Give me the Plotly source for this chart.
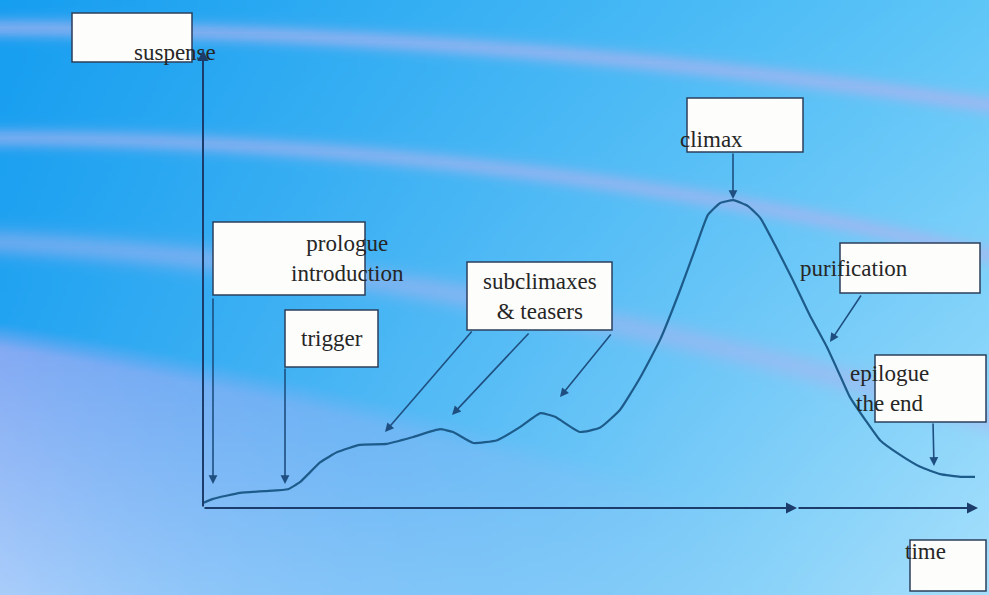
import base64
import struct
import zlib

import numpy as np
import plotly.graph_objects as go

# --- data: dramatic curve (time 0..100, suspense 0..100) ---
time = [0.0, 1.3, 4.8, 8.0, 11.0, 12.6, 15.2, 17.4, 20.3, 23.8, 27.2, 30.7, 32.4,
        35.0, 38.1, 41.1, 43.7, 45.6, 48.8, 51.4, 54.0, 56.6, 59.2, 61.8, 63.7,
        65.4, 67.0, 68.7, 70.6, 72.2, 74.1, 76.4, 78.6, 80.8, 82.5, 83.8, 85.8,
        87.7, 90.3, 92.9, 95.5, 98.1, 100.0]
suspense = [1.1, 2.0, 3.3, 3.7, 4.1, 5.7, 10.0, 12.2, 13.8, 14.0, 15.5, 17.2, 16.6,
            14.2, 14.8, 17.7, 20.7, 19.9, 16.6, 17.5, 21.4, 28.4, 36.7, 47.6, 56.3,
            64.0, 66.6, 67.2, 65.9, 63.3, 57.4, 49.8, 42.1, 35.2, 29.0, 24.2, 19.2,
            14.8, 11.6, 9.0, 7.4, 6.8, 6.8]

labels = ["suspense", "prologue<br>introduction", "trigger", "subclimaxes<br>&amp; teasers",
          "climax", "purification", "epilogue<br>the end", "time"]

W, H = 989, 595
X0, Y0 = 203, 508          # pixel position of the origin
SX, SY = 7.72, 4.58        # pixels per data unit


def px(x):
    return (x - X0) / SX


def py(y):
    return (Y0 - y) / SY


def background_uri(w=198, h=119):
    xs = (np.arange(w) + 0.5) * W / w
    ys = (np.arange(h) + 0.5) * H / h
    X, Y = np.meshgrid(xs, ys)
    u, v = X / W, Y / H
    tl = np.array([22, 158, 240.0])
    tr = np.array([95, 198, 248.0])
    bl = np.array([45, 168, 242.0])
    br = np.array([168, 224, 252.0])
    img = ((1 - u)[..., None] * (1 - v)[..., None] * tl + u[..., None] * (1 - v)[..., None] * tr
           + (1 - u)[..., None] * v[..., None] * bl + u[..., None] * v[..., None] * br)
    lav = np.array([172, 180, 240.0])
    # lower-left periwinkle region
    yb = 335 + 0.16 * X + 0.00012 * X ** 2
    wreg = np.clip((Y - yb) / 25 + 0.5, 0, 1) * np.clip(1 - X / 750, 0, 1)
    peri = np.array([140, 178, 245.0]) + (Y[..., None] - 400) / 195 * np.array([30, 28, 6.0])
    img = img * (1 - wreg[..., None]) + peri * wreg[..., None]
    # light bands
    for a0, a1, a2, wid, strength in [(28, 0.0059, 7.28e-5, 10, 0.65),
                                      (138, 0.0036, 1.16e-4, 10, 0.6),
                                      (242, 0.0583, 1.23e-4, 14, 0.5)]:
        yc = a0 + a1 * X + a2 * X ** 2
        wb = strength * np.exp(-((Y - yc) / wid) ** 2)
        img = img * (1 - wb[..., None]) + lav * wb[..., None]
    arr = np.clip(img, 0, 255).astype(np.uint8)
    raw = b"".join(b"\x00" + row.tobytes() for row in arr)

    def chunk(tag, data):
        c = tag + data
        return struct.pack(">I", len(data)) + c + struct.pack(">I", zlib.crc32(c) & 0xffffffff)

    png = (b"\x89PNG\r\n\x1a\n" + chunk(b"IHDR", struct.pack(">IIBBBBB", w, h, 8, 2, 0, 0, 0))
           + chunk(b"IDAT", zlib.compress(raw, 9)) + chunk(b"IEND", b""))
    return "data:image/png;base64," + base64.b64encode(png).decode()


fig = go.Figure()

# label boxes (pixel rectangles) drawn as shapes, text as plain annotations
boxes = [(0, 72, 13, 192, 62), (1, 213, 222, 365, 295), (2, 285, 310, 378, 367),
         (3, 467, 262, 612, 330), (4, 687, 98, 803, 152), (5, 840, 243, 980, 293),
         (6, 875, 355, 986, 422), (7, 910, 540, 986, 591)]
font = dict(family="Liberation Serif", size=23, color="#262626")
for i, x0, y0, x1, y1 in boxes:
    fig.add_shape(type="rect", xref="paper", yref="paper",
                  x0=x0 / W, x1=x1 / W, y0=1 - y1 / H, y1=1 - y0 / H,
                  fillcolor="#fdfdfb", line=dict(color="#2b3f5c", width=1.5), layer="above")
    fig.add_annotation(x=(x0 + x1) / 2 / W, y=1 - (y0 + y1) / 2 / H, xref="paper", yref="paper",
                       text=labels[i], showarrow=False, font=font)

# arrows: (tail px, head px, colour, width)
arrows = [((203, 508), (203, 50), "#1c3d6b", 2),
          ((203, 508), (797, 508), "#1c3d6b", 2),
          ((797, 508), (978, 508), "#1c3d6b", 2),
          ((213, 297), (213, 484), "#1e4f80", 1.6),
          ((285, 367), (285, 484), "#1e4f80", 1.6),
          ((473, 330), (385, 432), "#1e4f80", 1.6),
          ((530, 332), (452, 415), "#1e4f80", 1.6),
          ((612, 333), (560, 397), "#1e4f80", 1.6),
          ((733, 152), (733, 199), "#1e4f80", 1.6),
          ((862, 294), (830, 342), "#1e4f80", 1.6),
          ((933, 422), (934, 466), "#1e4f80", 1.6)]
for (tx, ty), (hx, hy), col, wd in arrows:
    fig.add_annotation(
        x=px(hx), y=py(hy), ax=px(tx), ay=py(ty), xref="x", yref="y", axref="x", ayref="y",
        text="", showarrow=True, arrowhead=2, arrowsize=1.1, arrowwidth=wd, arrowcolor=col,
        standoff=0, startstandoff=0,
    )

fig.add_trace(go.Scatter(
    x=time, y=suspense, mode="lines",
    line=dict(color="#1d5b8a", width=2.2, shape="spline", smoothing=0.4),
    showlegend=False,
))

blank = dict(showgrid=False, zeroline=False, showticklabels=False, ticks="", showline=False,
             fixedrange=True)
fig.update_layout(
    width=W, height=H, margin=dict(l=0, r=0, t=0, b=0),
    paper_bgcolor="#6cc4f5", plot_bgcolor="rgba(0,0,0,0)",
    xaxis=dict(range=[px(0), px(W)], **blank),
    yaxis=dict(range=[py(H), py(0)], **blank),
    images=[dict(source=background_uri(), xref="paper", yref="paper", x=0, y=1,
                 sizex=1, sizey=1, sizing="stretch", layer="below", xanchor="left",
                 yanchor="top")],
)

fig.write_html("out.html", config={"displayModeBar": False},
               post_script="document.body.style.margin='0';")
